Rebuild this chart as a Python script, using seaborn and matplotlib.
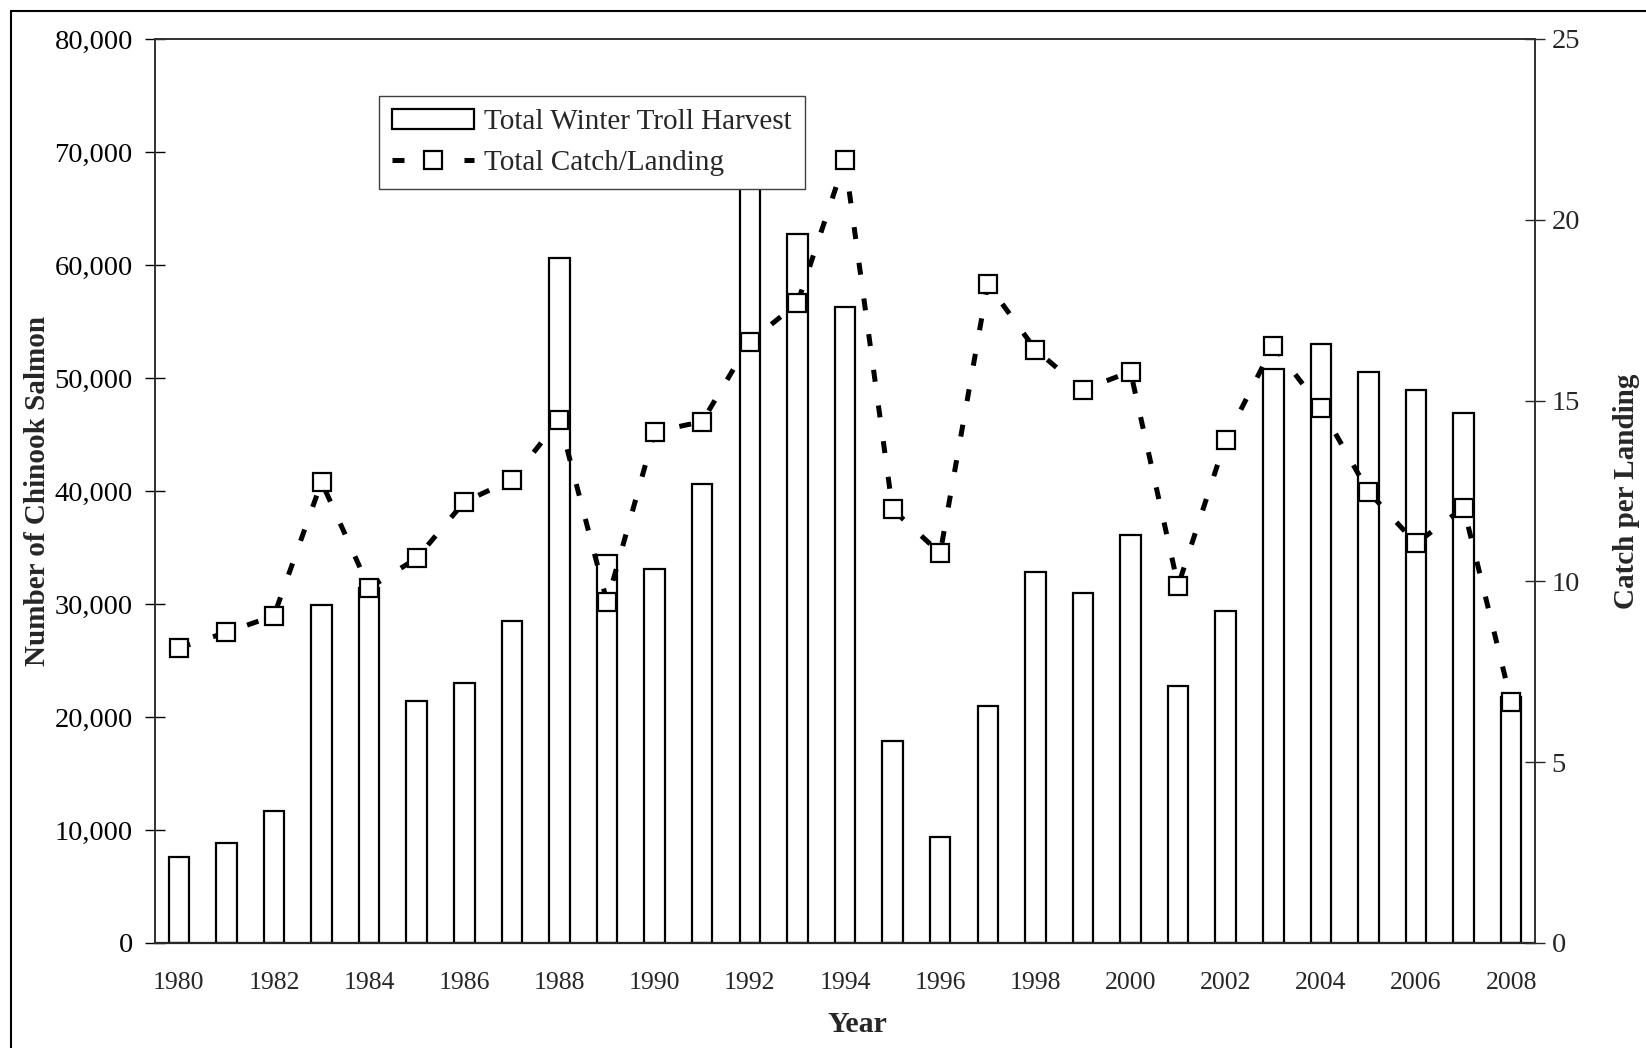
import numpy as np
import pandas as pd
import matplotlib
matplotlib.use("Agg")
import matplotlib.pyplot as plt
import seaborn as sns
from matplotlib.lines import Line2D
from matplotlib.patches import Patch
from matplotlib.ticker import FuncFormatter

# ---- data ----
years = list(range(1980, 2009))
harvest = [7600, 8850, 11700, 29900, 31400, 21400, 23000, 28500, 60600, 34300,
           33100, 40600, 71000, 62700, 56300, 17900, 9400, 21000, 32800, 31000,
           36100, 22700, 29400, 50800, 53000, 50500, 48900, 46900, 21800]
catch_per_landing = [8.16, 8.59, 9.05, 12.75, 9.82, 10.64, 12.20, 12.81, 14.47, 9.43,
                     14.14, 14.42, 16.63, 17.69, 21.65, 11.99, 10.78, 18.23, 16.41, 15.30,
                     15.80, 9.88, 13.92, 16.52, 14.80, 12.48, 11.05, 12.04, 6.67]
bar_label = "Total Winter Troll Harvest"
line_label = "Total Catch/Landing"
left_ticks = list(range(0, 80001, 10000))
right_ticks = [0, 5, 10, 15, 20, 25]

df = pd.DataFrame({"Year": years, "Harvest": harvest, "CPL": catch_per_landing})

sns.set_style("white")
plt.rcParams["font.family"] = ["Liberation Serif", "DejaVu Serif"]

W, H = 1646, 1048
fig = plt.figure(figsize=(W / 100, H / 100), dpi=100)
L, R, T, B = 155, 1535, 39, 943
ax = fig.add_axes([L / W, (H - B) / H, (R - L) / W, (B - T) / H])

sns.barplot(data=df, x="Year", y="Harvest", ax=ax, color="white", saturation=1,
            edgecolor="black", linewidth=1.6, width=0.43, errorbar=None, zorder=2)

ax2 = ax.twinx()
sns.pointplot(data=df, x="Year", y="CPL", ax=ax2, color="black", markers="s",
              linestyles="--", errorbar=None)
for ln in ax2.lines:
    ln.set_markerfacecolor("white")
    ln.set_markeredgecolor("black")
    ln.set_markeredgewidth(1.6)
    ln.set_markersize(12.5)
    ln.set_linewidth(3.6)
    ln.set_dashes((2.4, 4.8))
    ln.set_dash_capstyle("butt")

n = len(years)
ax.set_xlim(-0.5, n - 0.5)
ax.set_ylim(0, 80000)
ax2.set_ylim(0, 25)

# y axes
ax.set_yticks(left_ticks)
ax.yaxis.set_major_formatter(FuncFormatter(lambda v, p: f"{int(v):,}"))
ax2.set_yticks(right_ticks)
ax.tick_params(axis="y", direction="inout", length=14, width=1.0, labelsize=20.5, pad=9,
               colors="black")
ax2.tick_params(axis="y", direction="inout", length=14, width=1.0, labelsize=20.5, pad=5)

# x axis: ticks between categories, labels every other year
ax.set_xticks(np.arange(-0.5, n, 1.0))
ax.set_xticklabels([""] * len(np.arange(-0.5, n, 1.0)))
ax.set_xticks(np.arange(0, n, 2), minor=True)
ax.set_xticklabels([str(y) for y in years[::2]], minor=True)
ax.tick_params(axis="x", which="major", direction="inout", length=15, width=1.0)
ax.tick_params(axis="x", which="minor", length=0, labelsize=18.5, pad=21)
ax2.set_xlim(-0.5, n - 0.5)

for a in (ax, ax2):
    for s in a.spines.values():
        s.set_visible(True)
        s.set_color("#303030")
        s.set_linewidth(1.2)
ax.spines["bottom"].set_color("black")
ax.spines["bottom"].set_linewidth(1.6)

ax.set_xlabel("Year", fontsize=21.5, fontweight="bold")
ax.set_ylabel("Number of Chinook Salmon", fontsize=21, fontweight="bold")
ax2.set_ylabel("Catch per Landing", fontsize=21, fontweight="bold", rotation=90)
ax.xaxis.set_label_coords((857 - L) / (R - L), -(1025 - B) / (B - T))
ax.yaxis.set_label_coords((38 - L) / (R - L), 0.5)
ax2.yaxis.set_label_coords((1627 - L) / (R - L), 0.5)
ax.yaxis.label.set_va("center")
ax2.yaxis.label.set_va("center")
ax.xaxis.label.set_va("center")

# legend
handles = [
    Patch(facecolor="white", edgecolor="black", linewidth=1.6, label=bar_label),
    Line2D([0], [0], color="black", lw=3.6, dashes=(2.4, 4.8), dash_capstyle="butt",
           marker="s", markersize=12.5, markerfacecolor="white", markeredgecolor="black",
           markeredgewidth=1.6, label=line_label),
]
leg = ax2.legend(handles=handles, loc="upper left",
                 bbox_to_anchor=((379 - L) / (R - L), (B - 96) / (B - T)),
                 borderaxespad=0, fontsize=21, frameon=True, fancybox=False,
                 handlelength=2.8, handleheight=0.67, handletextpad=0.35,
                 borderpad=0.45, labelspacing=0.5, framealpha=1)
leg.get_frame().set_edgecolor("#404040")
leg.get_frame().set_linewidth(1.0)
leg.set_zorder(10)

ax.grid(False)
ax2.grid(False)

# outer frame (left and top edges visible)
fig.add_artist(Line2D([11 / W, 11 / W], [0, 1 - 10.7 / H], transform=fig.transFigure,
                      color="black", lw=1.5))
fig.add_artist(Line2D([11 / W, 1], [1 - 10.7 / H, 1 - 10.7 / H], transform=fig.transFigure,
                      color="black", lw=1.5))

fig.savefig("out.png", dpi=100, facecolor="white")
